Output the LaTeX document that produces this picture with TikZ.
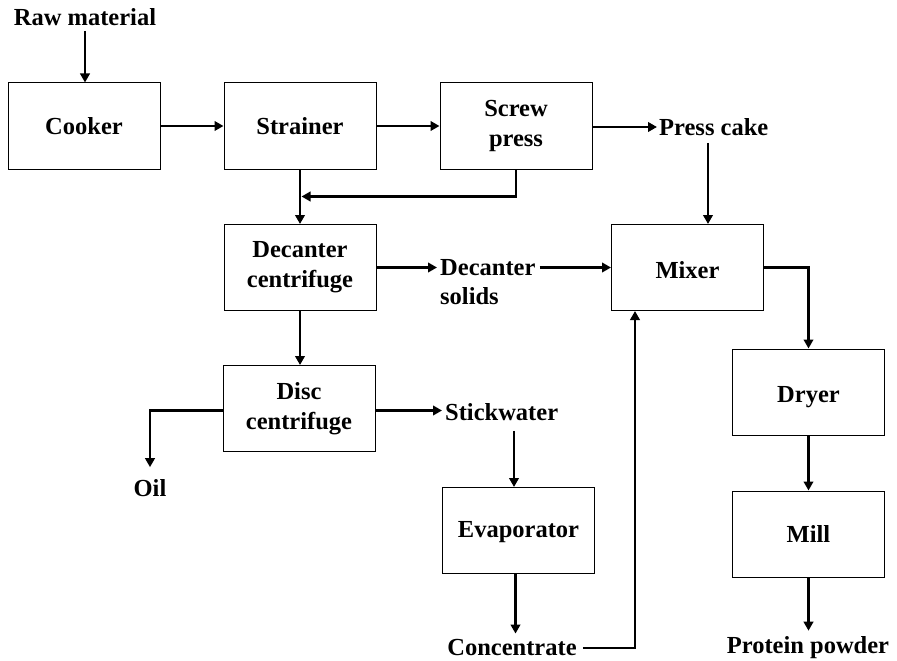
\documentclass[tikz,border=0pt]{standalone}
\usepackage{fontspec}
\setmainfont{Liberation Serif}
\usetikzlibrary{arrows.meta,calc}
\newcommand{\lowertext}[2]{\raisebox{0pt}[\dimexpr\height+#1\relax][\depth]{#2}}
\begin{document}
\begin{tikzpicture}[x=1pt,y=-1pt,
 box/.style={draw,line width=1pt,minimum width=152pt,minimum height=86pt,align=center,font=\bfseries\fontsize{24.5}{30}\selectfont,inner sep=0pt},
 lbl/.style={font=\bfseries\fontsize{24.5}{29}\selectfont,inner sep=0pt,align=left},
 flow/.style={line width=2.8pt,-{Triangle[length=9pt,width=9.5pt]}}]
\useasboundingbox (0,0) rectangle (897,661);
% process boxes
\node[box] (cooker) at (84,126) {Cooker};
\node[box] (strainer) at (300,126) {Strainer};
\node[box] (screw) at (516,126) {Screw\\press};
\node[box] (dec) at (300,267.5) {Decanter\\centrifuge};
\node[box] (mixer) at (687.5,267.5) {\lowertext{5pt}{Mixer}};
\node[box] (disc) at (299,408.5) {Disc\\centrifuge};
\node[box] (evap) at (518.5,530.5) {\lowertext{4pt}{Evaporator}};
\node[box] (dryer) at (808.5,392) {\lowertext{10pt}{Dryer}};
\node[box] (mill) at (808.5,534) {Mill};
% stream labels
\node[lbl] (raw) at (85,17) {Raw material};
\node[lbl,anchor=west] (cake) at (659,127) {Press cake};
\node[lbl,anchor=west] (ds) at (440,282) {Decanter\\solids};
\node[lbl] (oil) at (150,488) {Oil};
\node[lbl,anchor=west] (stick) at (445,412) {Stickwater};
\node[lbl] (conc) at (512,648) {Concentrate};
\node[lbl] (prot) at (808,648) {Protein powder};
% connectors
\draw[flow] ([yshift=-5pt]raw.south) -- (raw.south |- cooker.north);
\draw[flow] (cooker.east) -- (cooker.east -| strainer.west);
\draw[flow] (strainer.east) -- (strainer.east -| screw.west);
\draw[flow,shorten >=2pt] (screw.east |- cake) -- (cake.west);
\coordinate (pc) at ($(cake.south west)+(49,7)$);
\draw[flow] (pc) -- (pc |- mixer.north);
\draw[flow] (strainer.south) -- (dec.north);
\draw[flow,shorten >=1.5pt] (screw.south) -- ++(0,27) coordinate (sp) -- (sp -| strainer.south);
\draw[flow,shorten >=3pt] (dec.east) -- (ds.west |- dec.east);
\draw[flow] ([xshift=4pt]ds.east |- dec.east) -- (mixer.west |- dec.east);
\draw[flow] (mixer.east) -| (dryer.north);
\draw[flow] (dec.south) -- (dec.south |- disc.north);
\draw[flow] ([yshift=-2pt]disc.west) -| ($(oil.north)+(0,-12)$);
\draw[flow,shorten >=3pt] ([yshift=-2pt]disc.east) -- ([yshift=-2pt]stick.west |- disc.east);
\coordinate (sw) at ($(stick.south west)+(69,10)$);
\draw[flow] (sw) -- (sw |- evap.north);
\draw[flow,shorten >=6pt] ([xshift=-3pt]evap.south) -- ([xshift=-3pt]evap.south |- conc.north);
\draw[flow] ([xshift=6pt]conc.east) -| ([xshift=-52.5pt]mixer.south);
\draw[flow] (dryer) -- (mill);
\draw[flow,shorten >=6pt] (mill.south) -- (mill.south |- prot.north);
\end{tikzpicture}
\end{document}
